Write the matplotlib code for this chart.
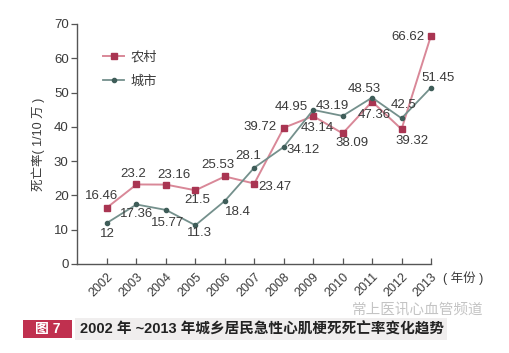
import matplotlib
matplotlib.use("Agg")
import matplotlib.pyplot as plt
from matplotlib.patches import Rectangle

plt.rcParams["font.family"] = ["Liberation Sans", "Noto Sans CJK SC", "DejaVu Sans"]

# ── Data ──────────────────────────────────────────────────────────────────────
years = [2002, 2003, 2004, 2005, 2006, 2007, 2008, 2009, 2010, 2011, 2012, 2013]
rural = [16.46, 23.2, 23.16, 21.5, 25.53, 23.47, 39.72, 43.14, 38.09, 47.36, 39.32, 66.62]
urban = [12, 17.36, 15.77, 11.3, 18.4, 28.1, 34.12, 44.95, 43.19, 48.53, 42.5, 51.45]
y_ticks = [0, 10, 20, 30, 40, 50, 60, 70]

# value label offsets (pixels, x right / y up)
rural_off = [(-5, 12), (-3, 10), (8, 10), (2, -10), (-7, 11), (21, -3),
             (-24, 1), (4, -12), (9, -10), (2, -13), (10, -12), (-23, -1)]
urban_off = [(0, -11), (0, -10), (2, -13), (4, -8), (13, -11), (-6, 12),
             (19, -3), (-22, 3), (-10, 10), (-8, 9), (2, 13), (7, 10)]

RURAL_LINE = "#d98898"
RURAL_MARK = "#a93552"
URBAN_LINE = "#74908c"
URBAN_MARK = "#3f5d59"
TXT = "#3a3a3a"

fig = plt.figure(figsize=(5.10, 3.53), dpi=100)
fig.patch.set_facecolor("white")
ax = fig.add_axes([77 / 510, 1 - 264 / 353, (431 - 77) / 510, (264 - 24) / 353])

ax.plot(years, rural, color=RURAL_LINE, lw=1.4, marker="s", ms=5,
        mfc=RURAL_MARK, mec=RURAL_MARK, label="农村", clip_on=False, zorder=3)
ax.plot(years, urban, color=URBAN_LINE, lw=1.3, marker="o", ms=3,
        mfc=URBAN_MARK, mec=URBAN_MARK, label="城市", clip_on=False, zorder=3)

for x, v, (dx, dy) in zip(years, rural, rural_off):
    ax.annotate(f"{v:g}", (x, v), xytext=(dx, dy), textcoords="offset pixels",
                ha="center", va="center", fontsize=9.5, color=TXT, zorder=4)
for x, v, (dx, dy) in zip(years, urban, urban_off):
    ax.annotate(f"{v:g}", (x, v), xytext=(dx, dy), textcoords="offset pixels",
                ha="center", va="center", fontsize=9.5, color=TXT, zorder=4)

ax.set_xlim(2000.98, 2013.0)
ax.set_ylim(0, 70)
ax.set_yticks(y_ticks)
ax.set_xticks(years)
ax.set_xticklabels([str(y) for y in years], rotation=45, ha="right", va="top",
                   rotation_mode="anchor", fontsize=9, color=TXT)
ax.tick_params(axis="y", direction="out", length=4, width=0.9, colors="#555",
               labelcolor=TXT, labelsize=9.5, pad=2)
ax.tick_params(axis="x", direction="in", length=4, width=0.9, colors="#555",
               labelcolor=TXT, pad=5)
for sp in ["top", "right"]:
    ax.spines[sp].set_visible(False)
for sp in ["left", "bottom"]:
    ax.spines[sp].set_color("#555")
    ax.spines[sp].set_linewidth(1.0)

ax.set_ylabel("死亡率( 1/10 万 )", fontsize=9, color=TXT, labelpad=6)

leg = ax.legend(loc="upper left", bbox_to_anchor=(0.04, 0.935), frameon=False,
                fontsize=9.5, handlelength=1.6, handletextpad=0.5, labelspacing=0.85,
                labelcolor=TXT)

fig.text(443 / 510, 1 - 278 / 353, "( 年份 )", fontsize=9, color=TXT, va="center")

# caption band
fig.patches.append(Rectangle((75 / 510, 1 - 340 / 353), 372 / 510, 22 / 353,
                             transform=fig.transFigure, facecolor="#f0eeee",
                             edgecolor="none", zorder=0))
fig.patches.append(Rectangle((23 / 510, 1 - 338 / 353), 49 / 510, 18 / 353,
                             transform=fig.transFigure, facecolor="#c0304f",
                             edgecolor="none", zorder=1))
fig.text(48 / 510, 1 - 329 / 353, "图 7", fontsize=10, color="white",
         ha="center", va="center", fontweight="bold")
fig.text(80 / 510, 1 - 329 / 353, "2002 年 ~2013 年城乡居民急性心肌梗死死亡率变化趋势",
         fontsize=10.5, color="#222", ha="left", va="center", fontweight="bold")
# faint watermark, kept just above the caption band
fig.text(483 / 510, 1 - 311 / 353, "常上医讯心血管频道", fontsize=10.5,
         color="#c4c4c4", ha="right", va="center")

fig.savefig("out.png", dpi=100, facecolor="white")
